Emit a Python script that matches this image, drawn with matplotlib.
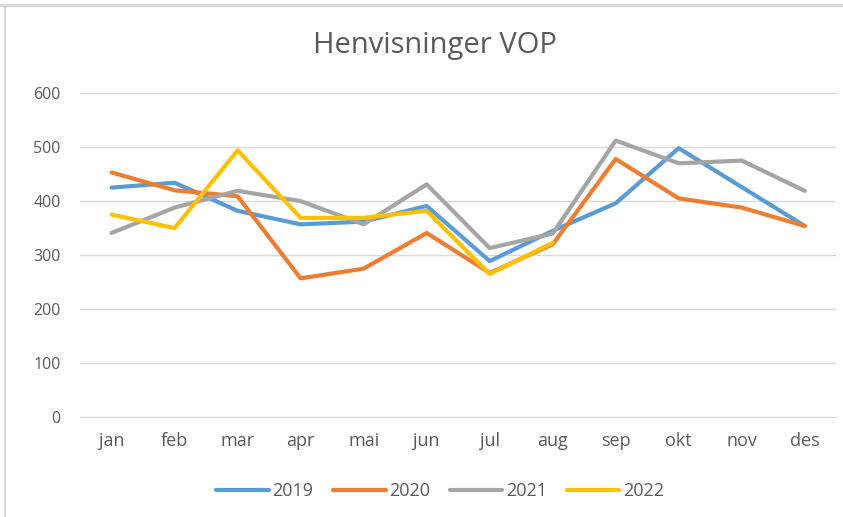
import matplotlib
matplotlib.use("Agg")
import matplotlib.pyplot as plt
from matplotlib.lines import Line2D

months = ["jan", "feb", "mar", "apr", "mai", "jun", "jul", "aug", "sep", "okt", "nov", "des"]
v2019 = [425, 434, 382, 357, 362, 391, 289, 345, 396, 498, 426, 354]
v2020 = [453, 420, 409, 257, 275, 341, 267, 320, 478, 405, 388, 354]
v2021 = [341, 388, 419, 400, 357, 431, 313, 340, 512, 470, 475, 419]
v2022 = [375, 350, 494, 369, 369, 382, 265, 323]
years = ["2019", "2020", "2021", "2022"]
colors = ["#5B9BD5", "#ED7D31", "#A5A5A5", "#FFC000"]

plt.rcParams['font.family'] = ['Open Sans', 'DejaVu Sans']
txt = "#595959"

fig = plt.figure(figsize=(8.43, 5.17), dpi=100)
ax = fig.add_axes([0.095, 0.193, 0.897, 0.627])

x = [i + 0.5 for i in range(12)]
for vals, c, lab in zip([v2019, v2020, v2021, v2022], colors, years):
    ax.plot(x[:len(vals)], vals, color=c, lw=3, label=lab,
            solid_capstyle='round', solid_joinstyle='round')

ax.set_xlim(0, 12)
ax.set_ylim(0, 600)
ax.set_yticks(range(0, 601, 100))
ax.set_xticks(x)
ax.set_xticklabels(months)
ax.grid(axis='y', color='#D9D9D9', lw=1)
ax.set_axisbelow(True)
for s in ['top', 'right', 'left']:
    ax.spines[s].set_visible(False)
ax.spines['bottom'].set_color('#D9D9D9')
ax.tick_params(length=0, colors=txt, labelsize=11.5)
ax.tick_params(axis='x', pad=11, labelsize=13)
ax.tick_params(axis='y', pad=14)

fig.text(0.516, 0.912, "Henvisninger VOP", ha='center', va='center',
         fontsize=21, color=txt)

handles = [Line2D([0], [0], color=c, lw=3, solid_capstyle='round') for c in colors]
fig.legend(handles, years, loc='center', bbox_to_anchor=(0.522, 0.05), ncol=4,
           frameon=False, fontsize=13, labelcolor=txt, handlelength=2.9,
           handletextpad=0.2, columnspacing=1.1)

# screenshot frame
fig.add_artist(Line2D([0, 1], [0.99, 0.99], color='#D9D9D9', lw=2.5, transform=fig.transFigure))
fig.add_artist(Line2D([0.006, 0.006], [0, 0.99], color='#D9D9D9', lw=1.5, transform=fig.transFigure))

fig.savefig("out.png", dpi=100)
